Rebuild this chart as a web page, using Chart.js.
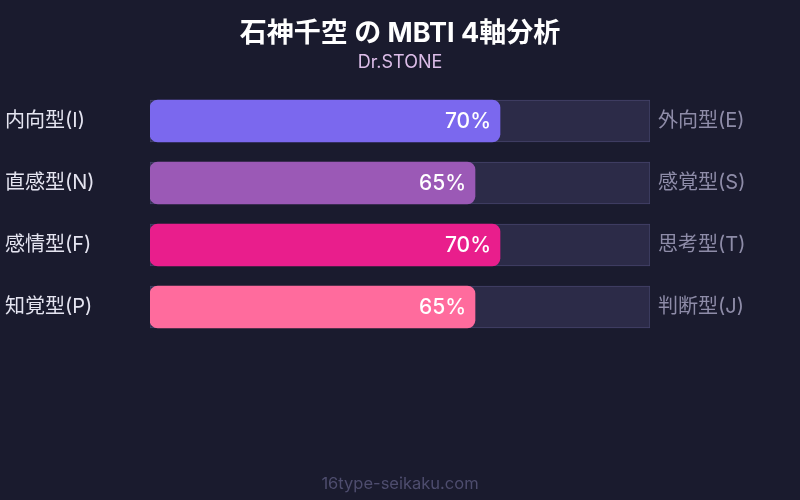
<!DOCTYPE html>
<html>
<head>
<meta charset="utf-8">
<script src="https://cdn.jsdelivr.net/npm/chart.js@4.4.1/dist/chart.umd.min.js"></script>
<style>
  html, body { margin: 0; padding: 0; background: #1a1b2e; }
  #wrap { width: 800px; height: 500px; }
</style>
</head>
<body>
<div id="wrap"><canvas id="mbtiChart" width="800" height="500"></canvas></div>
<script>
var leftLabels = ['内向型(I)', '直感型(N)', '感情型(F)', '知覚型(P)'];
var rightLabels = ['外向型(E)', '感覚型(S)', '思考型(T)', '判断型(J)'];
var values = [70, 65, 70, 65];
var trackValues = [100, 100, 100, 100];
var barColors = ['#7b68ee', '#9b59b6', '#e91e8c', '#ff6b9d'];

var FONT = "Inter, 'Noto Sans CJK JP', 'Noto Sans', sans-serif";

document.addEventListener("DOMContentLoaded", function() {
    var ctx = document.getElementById('mbtiChart').getContext('2d');

    // background, title, subtitle and footer text
    var decorPlugin = {
        id: 'decor',
        beforeDraw: function(chart) {
            var c = chart.ctx;
            c.save();
            c.fillStyle = '#1a1b2e';
            c.fillRect(0, 0, chart.width, chart.height);
            c.restore();
        },
        afterDraw: function(chart) {
            var c = chart.ctx;
            c.save();
            c.textAlign = 'center';
            c.textBaseline = 'middle';
            c.fillStyle = '#ffffff';
            c.font = 'bold 27px ' + FONT;
            c.fillText('石神千空 の MBTI 4軸分析', 400, 34);
            c.fillStyle = '#dcbde8';
            c.font = '18px ' + FONT;
            c.fillText('Dr.STONE', 400, 63);
            c.fillStyle = '#4e4d6e';
            c.font = '16.5px ' + FONT;
            c.fillText('16type-seikaku.com', 400, 484);
            c.restore();
        }
    };

    // percentage text at the end of each bar
    var valueLabelPlugin = {
        id: 'valueLabels',
        afterDatasetsDraw: function(chart) {
            var meta = chart.getDatasetMeta(1);
            var c = chart.ctx;
            c.save();
            c.fillStyle = '#ffffff';
            c.font = '500 21px ' + FONT;
            c.textAlign = 'right';
            c.textBaseline = 'middle';
            meta.data.forEach(function(bar, i) {
                c.fillText(values[i] + '%', bar.x - 9, bar.y + 1);
            });
            c.restore();
        }
    };

    new Chart(ctx, {
        type: 'bar',
        data: {
            labels: leftLabels,
            datasets: [{
                label: 'track',
                data: trackValues,
                backgroundColor: '#2c2b48',
                borderColor: '#44436a',
                borderWidth: 1,
                borderSkipped: false,
                barThickness: 42,
                grouped: false,
                order: 2
            }, {
                label: 'value',
                data: values,
                backgroundColor: barColors,
                borderWidth: 0,
                borderRadius: 8,
                borderSkipped: false,
                barThickness: 42,
                grouped: false,
                order: 1
            }]
        },
        options: {
            indexAxis: 'y',
            responsive: false,
            animation: false,
            layout: {
                padding: { left: 5, right: 0, top: 90, bottom: 162 }
            },
            scales: {
                x: {
                    display: false,
                    min: 0,
                    max: 100
                },
                y: {
                    position: 'left',
                    grid: { display: false },
                    border: { display: false },
                    ticks: {
                        crossAlign: 'far',
                        color: '#e4e4f0',
                        font: { family: FONT, size: 20 }
                    },
                    afterFit: function(scale) { scale.width = 145; }
                },
                y2: {
                    type: 'category',
                    position: 'right',
                    labels: rightLabels,
                    offset: true,
                    grid: { display: false },
                    border: { display: false },
                    ticks: {
                        crossAlign: 'near',
                        padding: 0,
                        color: '#8e8ca8',
                        font: { family: FONT, size: 20 }
                    },
                    afterFit: function(scale) { scale.width = 150; }
                }
            },
            plugins: {
                legend: { display: false },
                tooltip: { enabled: false }
            }
        },
        plugins: [decorPlugin, valueLabelPlugin]
    });
});
</script>
</body>
</html>
